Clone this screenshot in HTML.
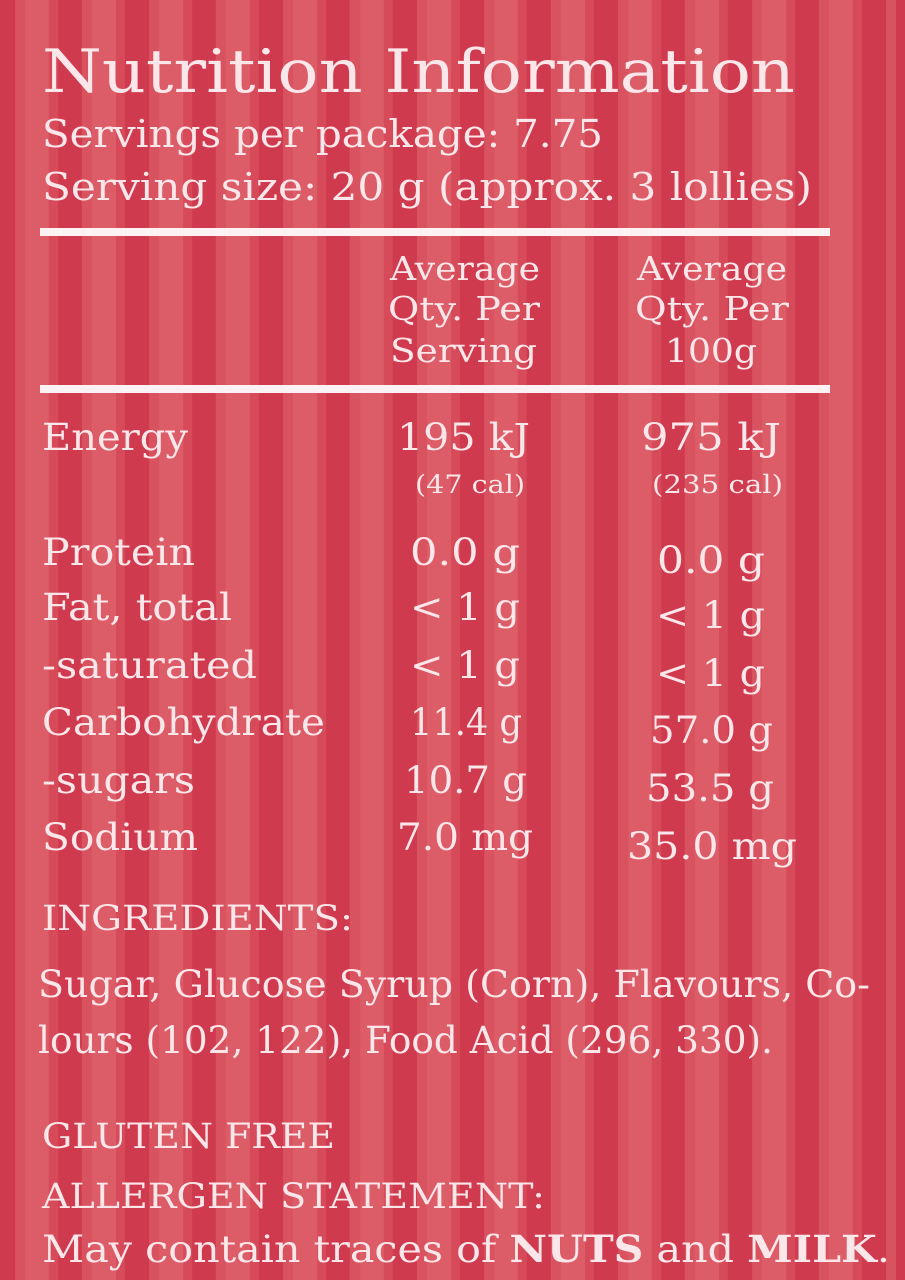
<!DOCTYPE html>
<html><head><meta charset="utf-8"><style>
html,body{margin:0;padding:0;width:905px;height:1280px;overflow:hidden}
body{background:repeating-linear-gradient(90deg,#d03a4e 0px,#d03a4e 24px,#d9525f 24px,#d9525f 34px,#dc5c67 34px,#dc5c67 58px,#d64a59 58px,#d64a59 67px);background-position:-9px 0}
svg{position:absolute;left:0;top:0}
text{font-family:"DejaVu Serif","Liberation Serif",serif;fill:#fbe6e9}
</style></head><body>
<svg width="905" height="1280" viewBox="0 0 905 1280">
<text x="42" y="92" font-size="60" textLength="753" lengthAdjust="spacingAndGlyphs">Nutrition Information</text>
<text x="42" y="147" font-size="38" textLength="561" lengthAdjust="spacingAndGlyphs">Servings per package: 7.75</text>
<text x="42" y="200" font-size="38" textLength="770" lengthAdjust="spacingAndGlyphs">Serving size: 20 g (approx. 3 lollies)</text>
<rect x="40" y="228" width="790" height="8" fill="#fdf2f3"/>
<g font-size="33">
<text x="390" y="280" textLength="150" lengthAdjust="spacingAndGlyphs">Average</text>
<text x="388" y="320" textLength="152" lengthAdjust="spacingAndGlyphs">Qty. Per</text>
<text x="390" y="362" textLength="147" lengthAdjust="spacingAndGlyphs">Serving</text>
<text x="637" y="280" textLength="150" lengthAdjust="spacingAndGlyphs">Average</text>
<text x="635" y="320" textLength="154" lengthAdjust="spacingAndGlyphs">Qty. Per</text>
<text x="665" y="362" textLength="92" lengthAdjust="spacingAndGlyphs">100g</text>
</g>
<rect x="40" y="385" width="790" height="8" fill="#fdf2f3"/>
<g font-size="37">
<text x="42" y="450" textLength="146" lengthAdjust="spacingAndGlyphs">Energy</text>
<text x="42" y="565" textLength="153" lengthAdjust="spacingAndGlyphs">Protein</text>
<text x="42" y="620" textLength="190" lengthAdjust="spacingAndGlyphs">Fat, total</text>
<text x="42" y="678" textLength="215" lengthAdjust="spacingAndGlyphs">-saturated</text>
<text x="42" y="735" textLength="283" lengthAdjust="spacingAndGlyphs">Carbohydrate</text>
<text x="42" y="793" textLength="153" lengthAdjust="spacingAndGlyphs">-sugars</text>
<text x="42" y="850" textLength="156" lengthAdjust="spacingAndGlyphs">Sodium</text>
</g>
<g font-size="37">
<text x="397" y="450" textLength="133" lengthAdjust="spacingAndGlyphs">195 kJ</text>
<text x="641" y="450" textLength="140" lengthAdjust="spacingAndGlyphs">975 kJ</text>
<text x="410" y="565" textLength="110" lengthAdjust="spacingAndGlyphs">0.0 g</text>
<text x="410" y="620" textLength="110" lengthAdjust="spacingAndGlyphs">&lt; 1 g</text>
<text x="410" y="678" textLength="110" lengthAdjust="spacingAndGlyphs">&lt; 1 g</text>
<text x="410" y="735" textLength="112" lengthAdjust="spacingAndGlyphs">11.4 g</text>
<text x="404" y="793" textLength="123" lengthAdjust="spacingAndGlyphs">10.7 g</text>
<text x="397" y="850" textLength="136" lengthAdjust="spacingAndGlyphs">7.0 mg</text>
<text x="657" y="573" textLength="108" lengthAdjust="spacingAndGlyphs">0.0 g</text>
<text x="656" y="628" textLength="109" lengthAdjust="spacingAndGlyphs">&lt; 1 g</text>
<text x="656" y="686" textLength="109" lengthAdjust="spacingAndGlyphs">&lt; 1 g</text>
<text x="650" y="743" textLength="123" lengthAdjust="spacingAndGlyphs">57.0 g</text>
<text x="646" y="801" textLength="128" lengthAdjust="spacingAndGlyphs">53.5 g</text>
<text x="627" y="859" textLength="170" lengthAdjust="spacingAndGlyphs">35.0 mg</text>
</g>
<text x="415" y="493" font-size="25" textLength="110" lengthAdjust="spacingAndGlyphs">(47 cal)</text>
<text x="652" y="493" font-size="25" textLength="131" lengthAdjust="spacingAndGlyphs">(235 cal)</text>
<text x="42" y="930" font-size="35" textLength="311" lengthAdjust="spacingAndGlyphs">INGREDIENTS:</text>
<text x="38" y="997" font-size="37" textLength="832" lengthAdjust="spacingAndGlyphs">Sugar, Glucose Syrup (Corn), Flavours, Co-</text>
<text x="38" y="1053" font-size="37" textLength="735" lengthAdjust="spacingAndGlyphs">lours (102, 122), Food Acid (296, 330).</text>
<text x="42" y="1148" font-size="35" textLength="293" lengthAdjust="spacingAndGlyphs">GLUTEN FREE</text>
<text x="42" y="1208" font-size="35" textLength="503" lengthAdjust="spacingAndGlyphs">ALLERGEN STATEMENT:</text>
<text x="42" y="1262" font-size="37" textLength="848" lengthAdjust="spacingAndGlyphs">May contain traces of <tspan font-weight="bold">NUTS</tspan> and <tspan font-weight="bold">MILK</tspan>.</text>
</svg>
</body></html>
